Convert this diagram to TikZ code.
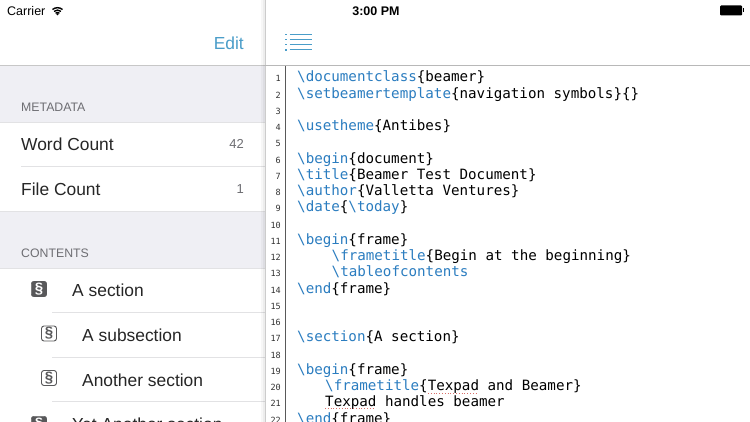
\documentclass[tikz,border=0pt]{standalone}
\usepackage{amsmath, amssymb, xcolor}
\usepackage{fontspec}
\setmainfont{Liberation Sans}
\setmonofont{DejaVu Sans Mono}
\usepackage{tikz}

\definecolor{tintblue}{HTML}{4A9DC9}
\definecolor{cmdblue}{HTML}{2B7DC0}
\definecolor{bandgray}{HTML}{EFEFF4}
\definecolor{labelgray}{HTML}{6D6D72}
\definecolor{rulegray}{HTML}{E2E2E4}
\definecolor{icongray}{HTML}{58585A}
\definecolor{spellred}{HTML}{D9706A}

\newcommand{\kw}[1]{\textcolor{cmdblue}{\textbackslash #1}}
\newcommand{\br}[1]{\{#1\}}

\tikzset{
    rowtext/.style={anchor=base west, inner sep=0pt, font=\fontsize{17.4}{20}\selectfont, text=black!85},
    bandtext/.style={anchor=base west, inner sep=0pt, font=\fontsize{12.3}{14}\selectfont, text=labelgray},
    counttext/.style={anchor=base east, inner sep=0pt, font=\fontsize{13}{15}\selectfont, text=labelgray},
    statustext/.style={anchor=base, inner sep=0pt, font=\fontsize{12.5}{14}\selectfont, text=black},
    codetext/.style={anchor=base west, inner sep=0pt, font=\ttfamily\fontsize{14.2}{16}\selectfont},
    linenum/.style={anchor=base east, inner sep=0pt, font=\ttfamily\fontsize{8.5}{10}\selectfont, text=black!80},
    filledicon/.style={draw=icongray, fill=icongray, rounded corners=2.5pt, minimum size=15.5pt, inner sep=0pt, text=white, font=\bfseries\fontsize{15}{16}\selectfont},
    outlineicon/.style={draw=icongray, fill=white, line width=0.9pt, rounded corners=2.5pt, minimum size=15pt, inner sep=0pt, text=icongray, font=\bfseries\fontsize{15}{16}\selectfont},
    hairline/.style={draw=rulegray, line width=0.8pt},
    listline/.style={draw=tintblue, line width=1pt},
    squiggle/.style={draw=spellred, line width=0.8pt, dotted}
}

\begin{document}
\begin{tikzpicture}[x=1pt, y=-1pt]
    \useasboundingbox (0,0) rectangle (750,422);
    \clip (0,0) rectangle (750,422);

    % grey bands of the left panel
    \fill[white] (0,0) rectangle (750,422);
    \fill[bandgray] (0,66) rectangle (265,122);
    \fill[bandgray] (0,211) rectangle (265,268);
    \draw[draw=black!22, line width=0.8pt] (0,65.5) -- (265,65.5);
    \draw[hairline] (0,122) -- (265,122);
    \draw[hairline] (0,211) -- (265,211);
    \draw[hairline] (0,268) -- (265,268);

    % status bar
    \node[statustext, anchor=base west] (carrier) at (7,15.5) {Carrier};
    \node[statustext, font=\bfseries\fontsize{12.5}{14}\selectfont] (clock) at (376,15.5) {3:00 PM};
    \foreach \rad in {3,5.4,7.8}
        \draw[black, line width=1.4pt] (57.5,15.5)++(130:\rad pt) arc[start angle=130, end angle=50, radius=\rad pt];
    \fill[black] (57.5,14.3) circle (1.1pt);
    \fill[black, rounded corners=1pt] (720,5.5) rectangle (742,15.5);
    \fill[black] (742.5,8.5) rectangle (744,12.5);

    % left panel
    \node[anchor=base east, inner sep=0pt, text=tintblue, font=\fontsize{17.4}{20}\selectfont] (edit) at (244,49.5) {Edit};
    \node[bandtext] (metadata) at (21,111.5) {METADATA};
    \node[rowtext] (wordcount) at (21,150.5) {Word Count};
    \node[counttext] (wordnum) at (244,149) {42};
    \node[rowtext] (filecount) at (21,195.5) {File Count};
    \node[counttext] (filenum) at (244,194) {1};
    \draw[hairline] (21,166.5) -- (265,166.5);
    \node[bandtext] (contents) at (21,257.5) {CONTENTS};

    \node[filledicon] (secicon) at (39,289) {§};
    \node[rowtext] (sec) at (72,296) {A section};
    \draw[hairline] (52,312.5) -- (265,312.5);
    \node[outlineicon] (subicon) at (49,333.5) {§};
    \node[rowtext] (sub) at (82,341) {A subsection};
    \draw[hairline] (52,357) -- (265,357);
    \node[outlineicon] (anothericon) at (49,378) {§};
    \node[rowtext] (another) at (82,386) {Another section};
    \draw[hairline] (52,401.5) -- (265,401.5);
    \node[filledicon] (yeticon) at (39,424) {§};
    \node[rowtext] (yet) at (72,430) {Yet Another section};

    % shadow of the editor panel over the left panel
    \fill[black, opacity=0.03] (261,0) rectangle (265,422);
    \fill[black, opacity=0.04] (263,0) rectangle (265,422);
    \draw[draw=black!20, line width=0.6pt] (265,0) -- (265,422);

    % header of the editor
    \draw[draw=black!28, line width=0.9pt] (265,65.5) -- (750,65.5);
    \foreach \ypos in {34.5,39.7,44.9,50} {
        \fill[tintblue] (285,\ypos-0.6) rectangle (287,\ypos+0.6);
        \draw[listline] (289.5,\ypos) -- (312,\ypos);
    }

    % gutter
    \draw[draw=black!65, line width=1pt] (285,66) -- (285,422);

    % the number is the line of the file, empty lines only get the number
    \foreach \num/\xpos/\txt in {
        1/297/{\kw{documentclass}\br{beamer}},
        2/297/{\kw{setbeamertemplate}\br{navigation symbols}\{\}},
        3/297/{},
        4/297/{\kw{usetheme}\br{Antibes}},
        5/297/{},
        6/297/{\kw{begin}\br{document}},
        7/297/{\kw{title}\br{Beamer Test Document}},
        8/297/{\kw{author}\br{Valletta Ventures}},
        9/297/{\kw{date}\{\kw{today}\}},
        10/297/{},
        11/297/{\kw{begin}\br{frame}},
        12/331.5/{\kw{frametitle}\br{Begin at the beginning}},
        13/331.5/{\kw{tableofcontents}},
        14/297/{\kw{end}\br{frame}},
        15/297/{},
        16/297/{},
        17/297/{\kw{section}\br{A section}},
        18/297/{},
        19/297/{\kw{begin}\br{frame}},
        20/325/{\kw{frametitle}\br{Texpad and Beamer}},
        21/325/{Texpad handles beamer},
        22/297/{\kw{end}\br{frame}}
    } {
        \pgfmathsetmacro{\ypos}{82+(\num-1)*16.24}
        \node[linenum] (num\num) at (281,\ypos) {\num};
        \node[codetext] (code\num) at (\xpos,\ypos) {\txt};
    }

    % red marks under the word the spell checker does not know
    \draw[squiggle] (428,393) -- (478,393);
    \draw[squiggle] (325,408.5) -- (375,408.5);
\end{tikzpicture}
\end{document}
